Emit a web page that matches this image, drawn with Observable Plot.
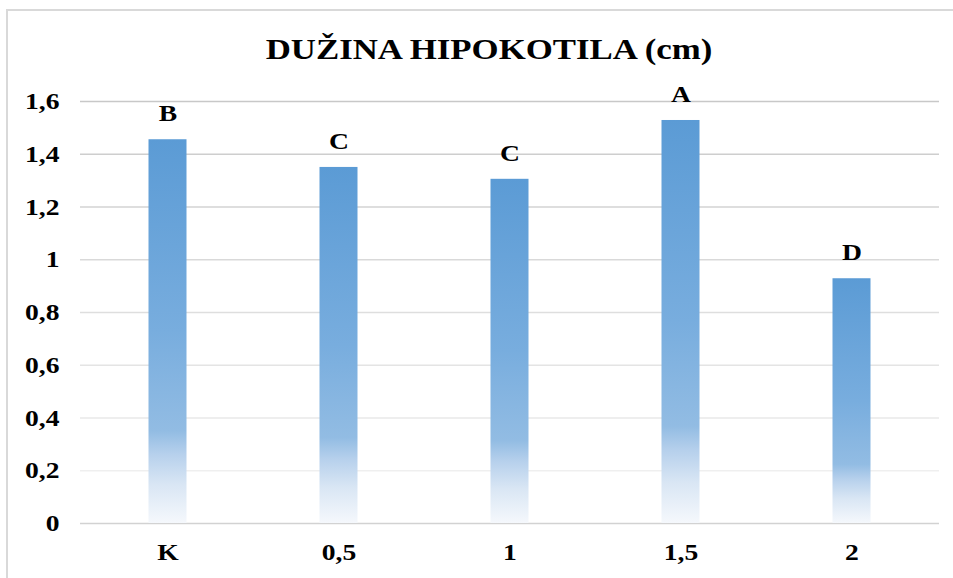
<!DOCTYPE html>
<html>
<head>
<meta charset="utf-8">
<script src="https://cdn.jsdelivr.net/npm/d3@7"></script>
<script src="https://cdn.jsdelivr.net/npm/@observablehq/plot@0.6"></script>
<style>
  html, body { margin: 0; padding: 0; background: #fff; }
  #wrap { position: relative; width: 953px; height: 578px; overflow: hidden; }
  #frame { position: absolute; left: 6px; top: 9px; right: -5px; bottom: -5px;
           border-top: 2px solid #d9d9d9; border-left: 2px solid #d9d9d9; }
  #title { position: absolute; left: 0; width: 978px; top: 31px; text-align: center;
           font-family: "Liberation Serif", "Times New Roman", serif; font-weight: bold;
           font-size: 29px; line-height: 36px; color: #000; transform: scaleX(1.2); transform-origin: 489px 0; }
  #chart { position: absolute; left: 0; top: 0; }
</style>
</head>
<body>
<div id="wrap">
  <div id="frame"></div>
  <div id="title">DUŽINA HIPOKOTILA (cm)</div>
  <div id="chart"></div>
</div>
<script>
const categories = ["K", "0,5", "1", "1,5", "2"];
const values = [1.455, 1.35, 1.305, 1.528, 0.928];
const letters = ["B", "C", "C", "A", "D"];
const yTicks = [0, 0.2, 0.4, 0.6, 0.8, 1, 1.2, 1.4, 1.6];

const data = categories.map((c, i) => ({cat: c, value: values[i], letter: letters[i]}));
const fmt = v => String(v).replace(".", ",");
const gridColor = d3.scaleLinear().domain([0, 0.2, 1.6]).range(["#d2d2d2", "#efefef", "#c8c8c8"]);

const font = '"Liberation Serif", "Times New Roman", serif';

const chart = Plot.plot({
  width: 953,
  height: 578,
  marginLeft: 80,
  marginRight: 14,
  marginTop: 101,
  marginBottom: 55,
  style: {fontFamily: font, fontWeight: "bold", fontSize: "24px", color: "#000", background: "transparent"},
  x: {domain: categories, padding: 0, label: null},
  y: {domain: [0, 1.6], ticks: yTicks, tickFormat: fmt, label: null},
  marks: [
    Plot.ruleY(yTicks, {stroke: d => gridColor(d), strokeWidth: 1.6}),
    Plot.barY(data, {x: "cat", y: "value", fill: "url(#barGrad)", insetLeft: 66.5, insetRight: 66.5}),
    Plot.text(data, {x: "cat", y: "value", text: "letter", dy: -26, fontSize: 23, fontWeight: "bold", fill: "#000"}),
    Plot.axisX({tickSize: 0, tickPadding: 19, fontSize: 24}),
    Plot.axisY({ticks: yTicks, tickFormat: fmt, tickSize: 0, tickPadding: 21, fontSize: 24})
  ]
});

const svg = d3.select(chart);
const grad = svg.insert("defs", ":first-child").append("linearGradient")
  .attr("id", "barGrad").attr("x1", 0).attr("y1", 0).attr("x2", 0).attr("y2", 1);
[[0, "#5B9BD5"], [0.5, "#78ADDE"], [0.76, "#92BCE3"], [0.82, "#B6D0EC"], [0.9, "#D9E6F4"], [1, "#F5F8FC"]]
  .forEach(([o, c]) => grad.append("stop").attr("offset", o).attr("stop-color", c));

// horizontal stretch of text glyphs (the reference is stretched horizontally)
svg.selectAll("text").each(function () {
  this.style.fontSize = "24px";
  this.style.fontWeight = "bold";
  const t = this.getAttribute("transform");
  if (t) this.setAttribute("transform", t + " scale(1.15,1)");
});

document.getElementById("chart").appendChild(chart);
</script>
</body>
</html>
